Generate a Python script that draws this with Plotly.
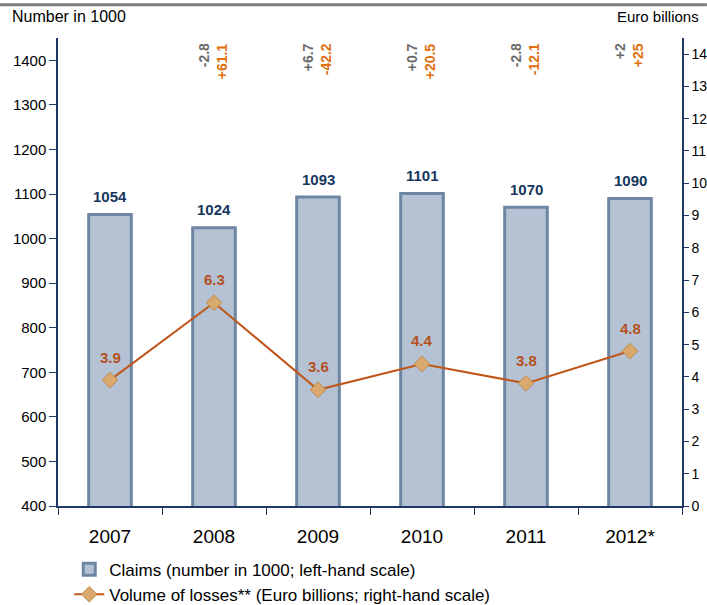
import plotly.graph_objects as go

years = ["2007", "2008", "2009", "2010", "2011", "2012*"]
claims = [1054, 1024, 1093, 1101, 1070, 1090]
losses = [3.9, 6.3, 3.6, 4.4, 3.8, 4.8]
claims_chg = ["", "-2.8", "+6.7", "+0.7", "-2.8", "+2"]
losses_chg = ["", "+61.1", "-42.2", "+20.5", "-12.1", "+25"]
left_ticks = list(range(400, 1401, 100))
right_ticks = list(range(0, 15))

FONT = "Liberation Sans, Arial, sans-serif"
NAVY = "#1f3864"
xpos = list(range(len(years)))

fig = go.Figure()
fig.add_trace(go.Bar(
    x=xpos, y=claims, base=0,
    name="Claims (number in 1000; left-hand scale)",
    marker=dict(color="#b4c2d3", line=dict(color="#6e86a3", width=3)),
    width=0.41,
))
fig.add_trace(go.Scatter(
    x=xpos, y=losses, yaxis="y2", mode="lines+markers",
    name="Volume of losses** (Euro billions; right-hand scale)",
    line=dict(color="#c0561a", width=2),
    marker=dict(symbol="diamond", size=12, color="#d9a96e", line=dict(color="#c08a4e", width=1)),
))

for i in xpos:
    fig.add_annotation(x=i, y=claims[i], xref="x", yref="y", yshift=18, showarrow=False,
                       text="<b>%d</b>" % claims[i], font=dict(color="#17365d", size=15, family=FONT))
    fig.add_annotation(x=i, y=losses[i], xref="x", yref="y2", yshift=23, showarrow=False,
                       text="<b>%s</b>" % losses[i], font=dict(color="#b4501e", size=15, family=FONT))
    if claims_chg[i]:
        fig.add_annotation(x=i, xref="x", y=0.993, yref="paper", yanchor="top",
                           text="<b>%s</b>" % claims_chg[i], textangle=-90, showarrow=False,
                           xshift=-10, font=dict(color="#6b6b6b", size=14, family=FONT))
        fig.add_annotation(x=i, xref="x", y=0.993, yref="paper", yanchor="top",
                           text="<b>%s</b>" % losses_chg[i], textangle=-90, showarrow=False,
                           xshift=8, font=dict(color="#e07010", size=14, family=FONT))

fig.add_annotation(x=-0.077, xref="paper", y=1.045, yref="paper", xanchor="left", yanchor="middle",
                   text="Number in 1000", showarrow=False, font=dict(size=16, color="#000", family=FONT))
fig.add_annotation(x=1.03, xref="paper", y=1.045, yref="paper", xanchor="right", yanchor="middle",
                   text="Euro billions", showarrow=False, font=dict(size=15, color="#000", family=FONT))

fig.add_shape(type="line", xref="paper", yref="paper", x0=-0.093, x1=1.04, y0=1.071, y1=1.071,
              line=dict(color="#7f7f7f", width=3))

fig.update_layout(
    width=707, height=605,
    margin=dict(l=58, r=25, t=38, b=99, autoexpand=False),
    paper_bgcolor="white", plot_bgcolor="white",
    font=dict(family=FONT, color="#000", size=15),
    showlegend=True,
    legend=dict(x=0.018, y=-0.0975, xanchor="left", yanchor="top", orientation="v",
                font=dict(size=17, family=FONT), tracegroupgap=0, itemwidth=30,
                bgcolor="rgba(0,0,0,0)"),
    xaxis=dict(range=[-0.5, len(years) - 0.5], tickvals=xpos, ticktext=years, showline=True,
               linecolor=NAVY, linewidth=1.5, ticks="", tickfont=dict(size=19, family=FONT),
               showgrid=False, zeroline=False, automargin=False, ticklabelstandoff=12,
               minor=dict(tickvals=[i - 0.5 for i in range(len(years) + 1)], ticks="outside",
                          ticklen=7, tickcolor=NAVY, showgrid=False)),
    yaxis=dict(range=[400, 1450], tickvals=left_ticks, showline=True, linecolor=NAVY, linewidth=1.5,
               ticks="outside", ticklen=7, tickcolor=NAVY, showgrid=False, zeroline=False,
               tickfont=dict(size=15, family=FONT), automargin=False),
    yaxis2=dict(range=[0, 14.5], tickvals=right_ticks, overlaying="y", side="right", showline=True,
                linecolor=NAVY, linewidth=1.5, ticks="outside", ticklen=5, tickcolor=NAVY,
                showgrid=False, zeroline=False, tickfont=dict(size=14, family=FONT), automargin=False),
)
fig.write_html("out.html", config={"displayModeBar": False},
               post_script="document.body.style.margin='0px';")
